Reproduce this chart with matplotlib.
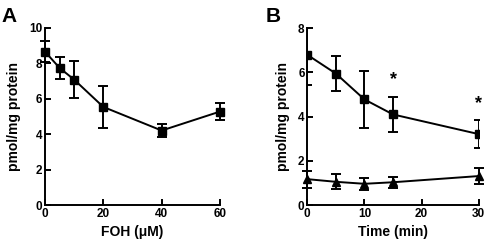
import matplotlib.pyplot as plt

plt.rcParams['font.family'] = ['Liberation Sans', 'DejaVu Sans']
plt.rcParams['font.weight'] = 'bold'

# Panel A: FOH dose response
foh_conc = [0, 5, 10, 20, 40, 60]
foh_mean = [8.65, 7.73, 7.07, 5.53, 4.2, 5.27]
foh_err = [0.6, 0.6, 1.05, 1.2, 0.38, 0.5]

# Panel B: time course
time_min = [0, 5, 10, 15, 30]
sq_mean = [6.8, 5.95, 4.78, 4.1, 3.21]
sq_err = [1.37, 0.8, 1.3, 0.8, 0.65]
tri_mean = [1.17, 1.05, 0.96, 1.03, 1.31]
tri_err = [0.38, 0.34, 0.28, 0.25, 0.35]
star_x = [15, 30]
star_y = [5.3, 4.2]

W, H = 486, 242
fig = plt.figure(figsize=(W / 100, H / 100), dpi=100)

axA = fig.add_axes([45 / W, 37 / H, 175 / W, 177.3 / H])
axB = fig.add_axes([307.3 / W, 37 / H, 171.4 / W, 176.7 / H])

lw = 1.4
for ax in (axA, axB):
    for s in ('top', 'right'):
        ax.spines[s].set_visible(False)
    for s in ('left', 'bottom'):
        ax.spines[s].set_linewidth(lw)
    ax.tick_params(direction='in', length=4, width=lw, labelsize=8.5, pad=2)
    for lab in ax.get_xticklabels() + ax.get_yticklabels():
        lab.set_fontweight('bold')

ekw = dict(color='black', lw=lw, ms=5.5, capsize=3.3, capthick=lw, elinewidth=lw)

axA.errorbar(foh_conc, foh_mean, yerr=foh_err, fmt='s-', clip_on=False, **ekw)
axA.set_xlim(0, 60)
axA.set_ylim(0, 10)
axA.set_xticks([0, 20, 40, 60])
axA.set_yticks([0, 2, 4, 6, 8, 10])
axA.set_xlabel('FOH (\u03bcM)', fontsize=10, fontweight='bold', labelpad=4)
axA.set_ylabel('pmol/mg protein', fontsize=10, fontweight='bold', labelpad=6)

axB.errorbar(time_min, sq_mean, yerr=sq_err, fmt='s-', **ekw)
axB.errorbar(time_min, tri_mean, yerr=tri_err, fmt='^-', clip_on=False,
             **{**ekw, 'ms': 6})
for x, y in zip(star_x, star_y):
    axB.text(x, y, '*', ha='center', va='bottom', fontsize=13, fontweight='bold')
axB.set_xlim(0, 30)
axB.set_ylim(0, 8)
axB.set_xticks([0, 10, 20, 30])
axB.set_yticks([0, 2, 4, 6, 8])
axB.set_xlabel('Time (min)', fontsize=10, fontweight='bold', labelpad=4)
axB.set_ylabel('pmol/mg protein', fontsize=10, fontweight='bold', labelpad=6)

for ax in (axA, axB):
    for lab in ax.get_xticklabels() + ax.get_yticklabels():
        lab.set_fontweight('bold')

fig.text(1 / W, 1 - 22 / H, 'A', fontsize=15, fontweight='bold')
fig.text(266 / W, 1 - 22 / H, 'B', fontsize=15, fontweight='bold')

fig.savefig('out.png', dpi=100)
